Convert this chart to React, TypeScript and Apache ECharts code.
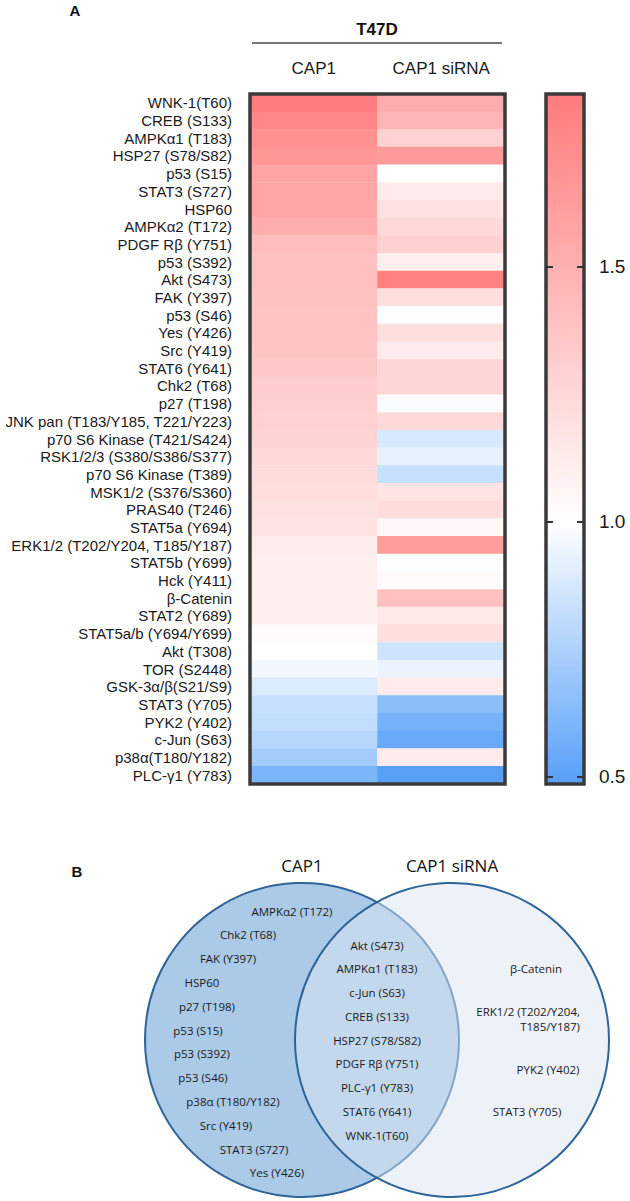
import React, { useEffect, useRef } from 'react';
import * as echarts from 'echarts';

const rowLabels = [
  'WNK-1(T60)', 'CREB (S133)', 'AMPKα1 (T183)', 'HSP27 (S78/S82)', 'p53 (S15)', 'STAT3 (S727)', 'HSP60',
  'AMPKα2 (T172)', 'PDGF Rβ (Y751)', 'p53 (S392)', 'Akt (S473)', 'FAK (Y397)', 'p53 (S46)', 'Yes (Y426)',
  'Src (Y419)', 'STAT6 (Y641)', 'Chk2 (T68)', 'p27 (T198)', 'JNK pan (T183/Y185, T221/Y223)',
  'p70 S6 Kinase (T421/S424)', 'RSK1/2/3 (S380/S386/S377)', 'p70 S6 Kinase (T389)', 'MSK1/2 (S376/S360)',
  'PRAS40 (T246)', 'STAT5a (Y694)', 'ERK1/2 (T202/Y204, T185/Y187)', 'STAT5b (Y699)', 'Hck (Y411)',
  'β-Catenin', 'STAT2 (Y689)', 'STAT5a/b (Y694/Y699)', 'Akt (T308)', 'TOR (S2448)', 'GSK-3α/β(S21/S9)',
  'STAT3 (Y705)', 'PYK2 (Y402)', 'c-Jun (S63)', 'p38α(T180/Y182)', 'PLC-γ1 (Y783)'
];

const columns = ['CAP1', 'CAP1 siRNA'];

const cap1Values = [
  1.83, 1.77, 1.70, 1.67, 1.58, 1.56, 1.56, 1.53, 1.42, 1.40, 1.40, 1.39, 1.38, 1.38, 1.37, 1.35, 1.32,
  1.31, 1.29, 1.28, 1.24, 1.22, 1.21, 1.19, 1.18, 1.12, 1.11, 1.11, 1.10, 1.10, 1.03, 1.00, 0.96, 0.89,
  0.83, 0.82, 0.78, 0.72, 0.60
];

const sirnaValues = [
  1.53, 1.47, 1.29, 1.64, 1.00, 1.13, 1.19, 1.24, 1.30, 1.10, 1.81, 1.21, 0.99, 1.21, 1.13, 1.26, 1.26,
  0.985, 1.24, 0.88, 0.93, 0.83, 1.17, 1.22, 1.06, 1.62, 0.99, 1.03, 1.40, 1.14, 1.21, 0.85, 0.94, 1.13,
  0.65, 0.58, 0.54, 1.13, 0.48
];

const scaleTicks = [0.5, 1.0, 1.5];
const scaleMin = 0.486;
const scaleMax = 1.839;

const cap1Only = [
  'AMPKα2 (T172)', 'Chk2 (T68)', 'FAK (Y397)', 'HSP60', 'p27 (T198)', 'p53 (S15)', 'p53 (S392)',
  'p53 (S46)', 'p38α (T180/Y182)', 'Src (Y419)', 'STAT3 (S727)', 'Yes (Y426)'
];
const shared = [
  'Akt (S473)', 'AMPKα1 (T183)', 'c-Jun (S63)', 'CREB (S133)', 'HSP27 (S78/S82)', 'PDGF Rβ (Y751)',
  'PLC-γ1 (Y783)', 'STAT6 (Y641)', 'WNK-1(T60)'
];
const sirnaOnly = ['β-Catenin', 'ERK1/2 (T202/Y204,\nT185/Y187)', 'PYK2 (Y402)', 'STAT3 (Y705)'];

// layout (text centre x positions for the Venn lists)
const cap1OnlyX = [292, 248, 228, 202, 207, 198, 202, 203, 233, 226, 254, 277];
const sirnaOnlyPos = [[536, 968], [525, 1019], [548, 1069], [527, 1111]];

const RED = [255, 123, 123];
const WHITE = [255, 255, 255];
const BLUE = [86, 160, 248];

function mix(a: number[], b: number[], t: number) {
  const c = a.map((v, i) => Math.round(v + (b[i] - v) * t));
  return `rgb(${c[0]},${c[1]},${c[2]})`;
}
function colorAt(v: number) {
  if (v >= 1) return mix(WHITE, RED, Math.min(1, (v - 1) / (scaleMax - 1)));
  return mix(WHITE, BLUE, Math.min(1, (1 - v) / (1 - scaleMin)));
}

export default function App() {
  const ref = useRef<HTMLDivElement>(null);
  useEffect(() => {
    const chart = echarts.init(ref.current!, null, { renderer: 'svg' });
    const N = 60;
    const stops: string[] = [];
    for (let i = 0; i <= N; i++) stops.push(colorAt(scaleMin + ((scaleMax - scaleMin) * i) / N));

    const data: any[] = [];
    rowLabels.forEach((_, i) => {
      data.push([0, i, cap1Values[i]]);
      data.push([1, i, sirnaValues[i]]);
    });

    const whiteOffset = (scaleMax - 1) / (scaleMax - scaleMin);
    const barGradient = new echarts.graphic.LinearGradient(0, 0, 0, 1, [
      { offset: 0, color: colorAt(scaleMax) },
      { offset: whiteOffset, color: '#ffffff' },
      { offset: 1, color: colorAt(scaleMin) },
    ]);

    const labelFont = "'Liberation Sans', Arial, sans-serif";
    const vennFont = "'Open Sans', sans-serif";

    const graphics: any[] = [
      { type: 'text', x: 75, y: 10, style: { text: 'A', font: `bold 15px ${labelFont}`, fill: '#111', textAlign: 'center', verticalAlign: 'middle' } },
      { type: 'text', x: 377, y: 29, style: { text: 'T47D', font: `bold 17px ${labelFont}`, fill: '#111', textAlign: 'center', verticalAlign: 'middle' } },
      { type: 'line', shape: { x1: 252, y1: 43, x2: 502, y2: 43 }, style: { stroke: '#777', lineWidth: 2 } },
      { type: 'rect', z: 100, shape: { x: 250, y: 94, width: 255, height: 690 }, style: { fill: 'none', stroke: '#3a3a3a', lineWidth: 3.5 } },
      { type: 'text', x: 77, y: 871, style: { text: 'B', font: `bold 15px ${labelFont}`, fill: '#111', textAlign: 'center', verticalAlign: 'middle' } },
      { type: 'text', x: 302, y: 865, style: { text: 'CAP1', font: `17px ${vennFont}`, fill: '#111', textAlign: 'center', verticalAlign: 'middle' } },
      { type: 'text', x: 452, y: 865, style: { text: 'CAP1 siRNA', font: `17px ${vennFont}`, fill: '#111', textAlign: 'center', verticalAlign: 'middle' } },
      { type: 'circle', z: 1, shape: { cx: 302, cy: 1040, r: 157 }, style: { fill: '#AACAE7', stroke: '#2E6496', lineWidth: 2 } },
      { type: 'circle', z: 2, shape: { cx: 452, cy: 1040, r: 157 }, style: { fill: 'rgba(220,229,243,0.5)', stroke: '#2E6496', lineWidth: 2 } },
    ];
    cap1Only.forEach((t, i) => {
      graphics.push({ type: 'text', z: 5, x: cap1OnlyX[i], y: 911 + i * 23.8, style: { text: t, font: `11.5px ${vennFont}`, fill: '#1a1a1a', textAlign: 'center', verticalAlign: 'middle' } });
    });
    shared.forEach((t, i) => {
      graphics.push({ type: 'text', z: 5, x: 377, y: 945 + i * 23.75, style: { text: t, font: `11.5px ${vennFont}`, fill: '#1a1a1a', textAlign: 'center', verticalAlign: 'middle' } });
    });
    sirnaOnly.forEach((t, i) => {
      const multi = t.includes('\n');
      graphics.push({ type: 'text', z: 5, x: multi ? 580 : sirnaOnlyPos[i][0], y: sirnaOnlyPos[i][1], style: { text: t, font: `11.5px ${vennFont}`, fill: '#1a1a1a', textAlign: multi ? 'right' : 'center', verticalAlign: 'middle', lineHeight: 15 } });
    });

    const option: any = {
      animation: false,
      backgroundColor: '#fff',
      grid: [
        { left: 250, top: 94, width: 255, height: 690, show: false },
        { left: 546, top: 94, width: 38, height: 690, show: true, backgroundColor: barGradient, borderColor: '#3a3a3a', borderWidth: 3.5 },
      ],
      xAxis: [
        {
          type: 'category', gridIndex: 0, data: columns, position: 'top',
          axisLine: { show: false }, axisTick: { show: false },
          axisLabel: { fontSize: 17, color: '#1a1a1a', fontFamily: labelFont, margin: 17 },
        },
        { type: 'category', gridIndex: 1, data: [''], show: false },
      ],
      yAxis: [
        {
          type: 'category', gridIndex: 0, data: rowLabels, inverse: true,
          axisLine: { show: false }, axisTick: { show: false },
          axisLabel: { fontSize: 15, color: '#1a1a1a', fontFamily: labelFont, margin: 18, interval: 0 },
        },
        {
          type: 'value', gridIndex: 1, min: scaleMin, max: scaleMax, position: 'right',
          splitLine: { show: false }, axisLine: { show: false },
          axisTick: { show: true, inside: true, length: 7, customValues: scaleTicks, lineStyle: { color: '#333', width: 2 } },
          axisLabel: { show: true, customValues: scaleTicks, formatter: (v: number) => v.toFixed(1), fontSize: 19, color: '#1a1a1a', fontFamily: labelFont, margin: 15 },
        },
        {
          type: 'value', gridIndex: 1, min: scaleMin, max: scaleMax, position: 'left',
          splitLine: { show: false }, axisLine: { show: false },
          axisTick: { show: true, inside: true, length: 7, customValues: scaleTicks, lineStyle: { color: '#333', width: 2 } },
          axisLabel: { show: false },
        },
      ],
      visualMap: {
        type: 'continuous', show: false, min: scaleMin, max: scaleMax, dimension: 2, seriesIndex: 0,
        inRange: { color: stops },
      },
      series: [
        {
          type: 'heatmap', xAxisIndex: 0, yAxisIndex: 0, data,
          itemStyle: { borderWidth: 0 },
        },
      ],
      graphic: graphics,
    };
    chart.setOption(option);
    return () => chart.dispose();
  }, []);
  return <div ref={ref} style={{ position: 'absolute', left: 0, top: 0, width: 630, height: 1201 }} />;
}
